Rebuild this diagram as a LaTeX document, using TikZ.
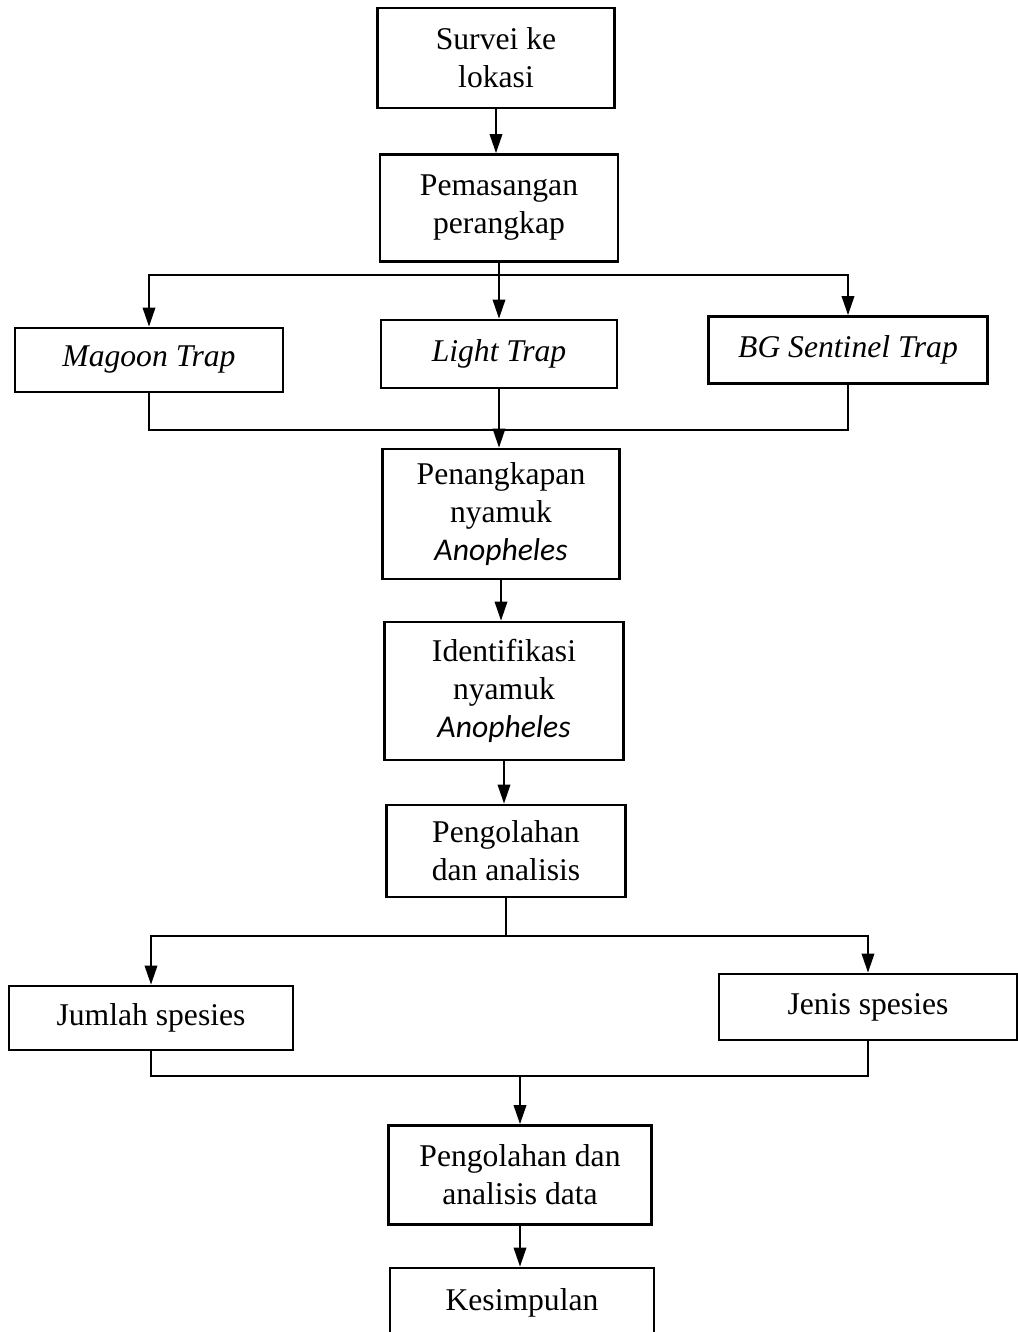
\documentclass[tikz,border=0pt]{standalone}
\usepackage{fontspec}
\setmainfont{Liberation Serif}
\newfontfamily\calib{Carlito}
\usetikzlibrary{arrows.meta}

\tikzset{
  box/.style 2 args={draw, line width=1.6pt, minimum width=#1*0.2mm,
    minimum height=#2*0.2mm, align=center, inner sep=0pt,
    font=\fontsize{18}{21.6}\selectfont},
  arr/.style={line width=1.1pt, -{Triangle[length=3.8mm,width=2.5mm]}},
  lin/.style={line width=1.1pt}
}

\begin{document}
\begin{tikzpicture}[x=0.2mm,y=-0.2mm]
\useasboundingbox (0,0) rectangle (1018,1332);

% main steps
\node[box={237}{100}] (survei) at (496,58) {Survei ke\\lokasi};
\node[box={238}{107}] (pasang) at (499,208) {Pemasangan\\perangkap};

% traps
\node[box={268}{64}] (magoon) at (149,360) {\itshape Magoon Trap};
\node[box={236}{68}] (light) at (499,354) {\itshape Light Trap};
\node[box={279}{67}] (bg) at (848,350) {\itshape BG Sentinel Trap};

\node[box={237}{130}] (tangkap) at (501,514) {Penangkapan\\nyamuk\\{\calib\itshape Anopheles}};
\node[box={239}{138}] (identif) at (504,691) {Identifikasi\\nyamuk\\{\calib\itshape Anopheles}};
\node[box={239}{92}] (olah) at (506,851) {Pengolahan\\dan analisis};

% results
\node[box={284}{64}] (jumlah) at (151,1018) {Jumlah spesies};
\node[box={298}{66}] (jenis) at (868,1007) {Jenis spesies};

\node[box={263}{99}] (olahdata) at (520,1175) {Pengolahan dan\\analisis data};
\node[box={264}{70}] (simpul) at (522,1303) {Kesimpulan};

\coordinate (s1) at (499,275);
\coordinate (j1) at (499,430);
\coordinate (s2) at (506,936);
\coordinate (j2) at (520,1076);

\draw[arr] (survei) -- (survei |- pasang.north);
\draw[lin] (pasang) -- (s1);
\draw[arr] (s1) -| (magoon);
\draw[arr] (s1) -- (light);
\draw[arr] (s1) -| (bg);

\draw[lin] (magoon) |- (j1);
\draw[lin] (bg) |- (j1);
\draw[arr] (light) -- (light |- tangkap.north);

\draw[arr] (tangkap) -- (tangkap |- identif.north);
\draw[arr] (identif) -- (identif |- olah.north);
\draw[lin] (olah) -- (s2);
\draw[arr] (s2) -| (jumlah);
\draw[arr] (s2) -| (jenis);

\draw[lin] (jumlah) |- (j2);
\draw[lin] (jenis) |- (j2);
\draw[arr] (j2) -- (olahdata);
\draw[arr] (olahdata) -- (olahdata |- simpul.north);
\end{tikzpicture}
\end{document}
